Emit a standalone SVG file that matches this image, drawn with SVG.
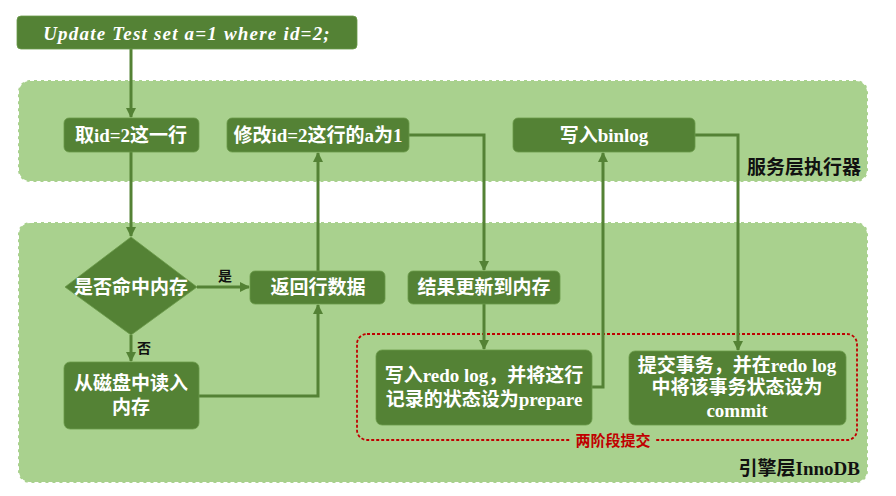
<svg xmlns="http://www.w3.org/2000/svg" width="896" height="496" viewBox="0 0 896 496">
<defs>
<style>
.region{fill:#a9d18e;stroke:#ffffff;stroke-width:2;stroke-dasharray:4 3}
.node{fill:#548235;stroke:#6b9a4a;stroke-width:0.8}
.nt{font-family:"Liberation Serif","Noto Sans CJK SC",serif;font-weight:bold;font-size:19px;fill:#ffffff;text-anchor:middle}
.lbl{font-family:"Liberation Serif","Noto Sans CJK SC",serif;font-weight:bold;font-size:19px;fill:#111111;text-anchor:end}
.small{font-family:"Liberation Serif","Noto Sans CJK SC",serif;font-weight:bold;font-size:14px;fill:#111111;text-anchor:middle}
.conn{fill:none;stroke:#548235;stroke-width:3}
</style>
<marker id="arr" viewBox="0 0 10 10" refX="9" refY="5" markerWidth="10" markerHeight="10" markerUnits="userSpaceOnUse" orient="auto">
<path d="M0,0 L10,5 L0,10 z" fill="#548235"/>
</marker>
</defs>
<rect width="896" height="496" fill="#ffffff"/>
<g id="region-service">
<rect class="region" x="18" y="80" width="850" height="102" rx="12"/>
<text class="lbl" x="861" y="174">服务层执行器</text>
</g>
<g id="region-engine">
<rect class="region" x="18" y="222" width="850" height="261" rx="12"/>
<text class="lbl" x="860" y="475">引擎层InnoDB</text>
</g>
<g id="two-phase">
<rect x="357" y="334" width="500" height="106" rx="10" fill="none" stroke="#c00000" stroke-width="1.8" stroke-dasharray="3 2"/>
<rect x="570" y="432" width="86" height="18" fill="#a9d18e"/>
<text x="613" y="446" font-family="'Liberation Serif','Noto Sans CJK SC',serif" font-weight="bold" font-size="15" fill="#c00000" text-anchor="middle">两阶段提交</text>
</g>
<g id="connectors">
<path class="conn" d="M131,49 V117" marker-end="url(#arr)"/>
<path class="conn" d="M131,152 V236" marker-end="url(#arr)"/>
<path class="conn" d="M197,287 H249" marker-end="url(#arr)"/>
<text class="small" x="225" y="281">是</text>
<path class="conn" d="M131,335 V361" marker-end="url(#arr)"/>
<text class="small" x="144" y="353">否</text>
<path class="conn" d="M199,396 H318 V305" marker-end="url(#arr)"/>
<path class="conn" d="M318,271 V153" marker-end="url(#arr)"/>
<path class="conn" d="M409,135 H484 V270" marker-end="url(#arr)"/>
<path class="conn" d="M484,304 V349" marker-end="url(#arr)"/>
<path class="conn" d="M592,387 H603 V153" marker-end="url(#arr)"/>
<path class="conn" d="M695,135 H738 V350" marker-end="url(#arr)"/>
</g>
<g id="n-sql">
<rect class="node" x="17" y="16" width="340" height="33" rx="4"/>
<text class="nt" x="187" y="40" font-size="21" font-style="italic" letter-spacing="1.2">Update Test set a=1 where id=2;</text>
</g>
<g id="n-fetch">
<rect class="node" x="64" y="118" width="135" height="34" rx="5"/>
<text class="nt" x="131" y="142">取id=2这一行</text>
</g>
<g id="n-modify">
<rect class="node" x="227" y="118" width="182" height="34" rx="5"/>
<text class="nt" x="318" y="142">修改id=2这行的a为1</text>
</g>
<g id="n-binlog">
<rect class="node" x="513" y="118" width="182" height="34" rx="5"/>
<text class="nt" x="604" y="142">写入binlog</text>
</g>
<g id="n-hit">
<polygon class="node" points="131,237 197,287 131,335 65,287"/>
<text class="nt" x="131" y="294">是否命中内存</text>
</g>
<g id="n-return">
<rect class="node" x="250" y="271" width="135" height="33" rx="5"/>
<text class="nt" x="318" y="294">返回行数据</text>
</g>
<g id="n-update">
<rect class="node" x="408" y="271" width="152" height="33" rx="5"/>
<text class="nt" x="484" y="294">结果更新到内存</text>
</g>
<g id="n-disk">
<rect class="node" x="64" y="362" width="135" height="67" rx="6"/>
<text class="nt" x="131" y="390">从磁盘中读入</text>
<text class="nt" x="131" y="414">内存</text>
</g>
<g id="n-redo">
<rect class="node" x="376" y="350" width="216" height="75" rx="6"/>
<text class="nt" x="484" y="382">写入redo log，并将这行</text>
<text class="nt" x="484" y="406">记录的状态设为prepare</text>
</g>
<g id="n-commit">
<rect class="node" x="629" y="351" width="217" height="74" rx="6"/>
<text class="nt" x="737" y="372">提交事务，并在redo log</text>
<text class="nt" x="737" y="394">中将该事务状态设为</text>
<text class="nt" x="737" y="417">commit</text>
</g>
</svg>
